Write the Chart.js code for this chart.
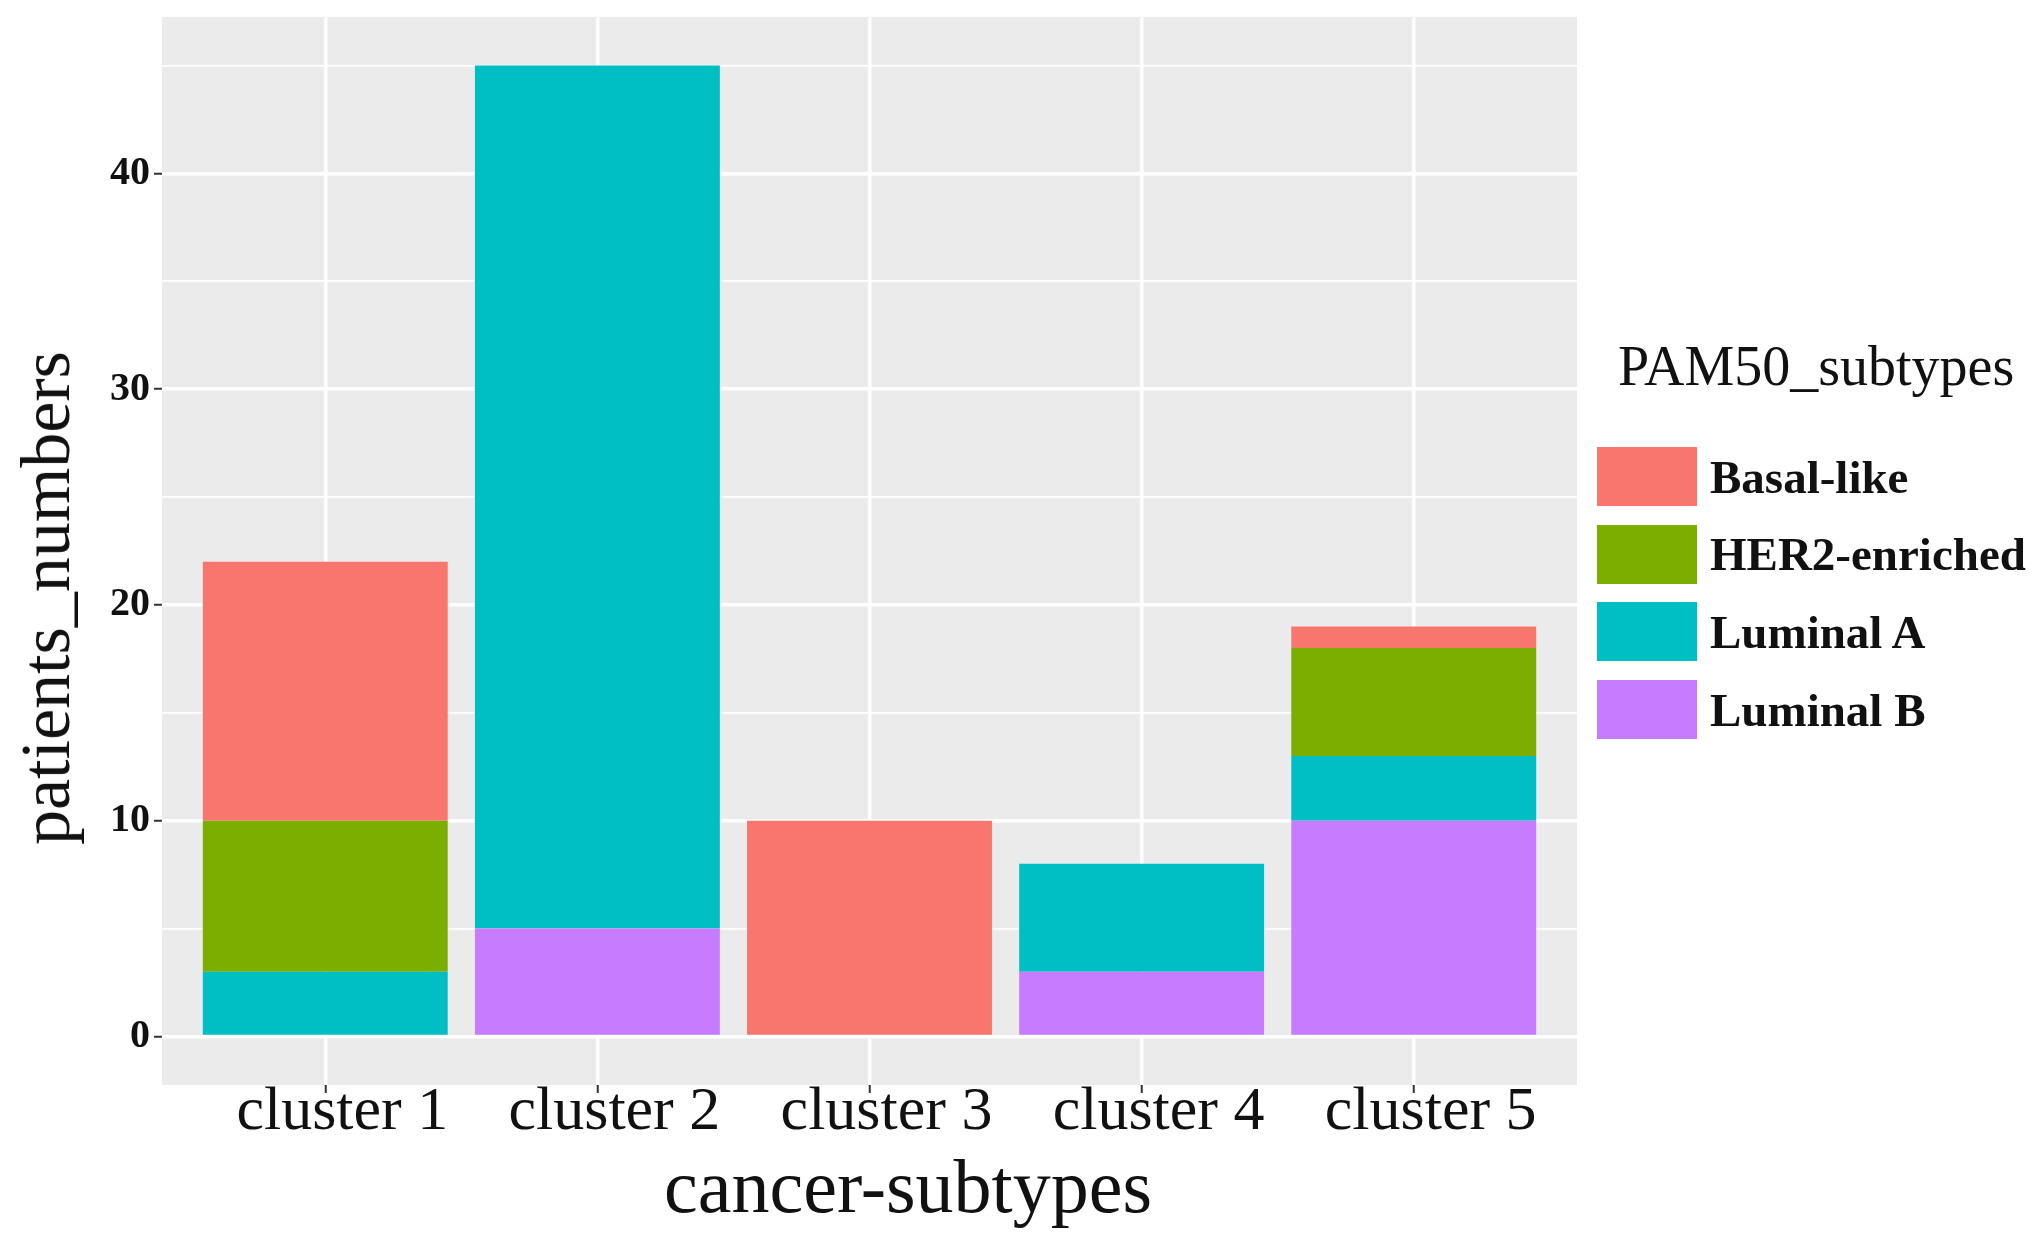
<!DOCTYPE html>
<html lang="en">
<head>
  <meta charset="UTF-8">
  <title>PAM50 subtypes per cluster</title>
  <script src="https://cdn.jsdelivr.net/npm/chart.js@4.4.3/dist/chart.umd.min.js"></script>
  <style>
    body {
      margin: 0;
      background: #fff;
      font-family: "Liberation Serif", "DejaVu Serif", serif;
      color: #111;
    }
    .wrap {
      position: relative;
      width: 2032px;
      height: 1240px;
    }
    .axis-title {
      position: absolute;
      white-space: nowrap;
      line-height: 1;
      transform: translate(-50%, -50%);
    }
    #ytitle {
      left: 46px;
      top: 598px;
      font-size: 70px;
      transform: translate(-50%, -50%) rotate(-90deg);
    }
    #xtitle {
      left: 908px;
      top: 1186px;
      font-size: 76px;
    }
    .legend {
      position: absolute;
      left: 1597px;
      top: 338px;
    }
    .legend h3 {
      margin: 0 0 0 21px;
      font-weight: normal;
      font-size: 56px;
      line-height: 56px;
      height: 109px;
    }
    .legend .row {
      display: flex;
      align-items: center;
      height: 59px;
      margin-bottom: 18.7px;
    }
    .legend .key {
      width: 100px;
      height: 59px;
      margin-right: 13px;
    }
    .legend .row span {
      font-size: 47px;
      font-weight: bold;
    }
  </style>
</head>
<body>
  <div class="wrap">
    <canvas id="chart" width="2032" height="1240"></canvas>
    <div class="axis-title" id="ytitle">patients_numbers</div>
    <div class="axis-title" id="xtitle">cancer-subtypes</div>
    <div class="legend" id="legend"><h3>PAM50_subtypes</h3></div>
  </div>

  <script>
    // data
    const categories = ['cluster 1', 'cluster 2', 'cluster 3', 'cluster 4', 'cluster 5'];
    const subtypes = ['Basal-like', 'HER2-enriched', 'Luminal A', 'Luminal B'];
    const basalLike = [12, 0, 10, 0, 1];
    const her2Enriched = [7, 0, 0, 0, 5];
    const luminalA = [3, 40, 0, 5, 3];
    const luminalB = [0, 5, 0, 3, 10];
    const yTicks = [0, 10, 20, 30, 40];

    const colors = ['#F8766D', '#7CAE00', '#00BFC4', '#C77CFF'];
    const seriesValues = [basalLike, her2Enriched, luminalA, luminalB];

    // ggplot stacks the first level on top, so build the datasets bottom-up
    const datasets = seriesValues.map((vals, i) => ({
      label: subtypes[i],
      data: vals.map((v, j) => ({ x: j + 1, y: v })),
      backgroundColor: colors[i],
      borderWidth: 0,
      barPercentage: 0.9,
      categoryPercentage: 1.0
    })).reverse();

    // legend in ggplot order
    const legendEl = document.getElementById('legend');
    subtypes.forEach((name, i) => {
      const row = document.createElement('div');
      row.className = 'row';
      row.innerHTML = '<div class="key" style="background:' + colors[i] + '"></div><span>' + name + '</span>';
      legendEl.appendChild(row);
    });

    const panelBg = {
      id: 'panelBg',
      beforeDraw(chart) {
        const a = chart.chartArea;
        const ctx = chart.ctx;
        ctx.save();
        ctx.fillStyle = '#EBEBEB';
        ctx.fillRect(a.left, a.top, a.right - a.left, a.bottom - a.top);
        ctx.restore();
      }
    };

    const isMajor = ctx => ctx.tick && yTicks.includes(ctx.tick.value);

    new Chart(document.getElementById('chart'), {
      type: 'bar',
      data: { datasets: datasets },
      plugins: [panelBg],
      options: {
        responsive: false,
        animation: false,
        devicePixelRatio: 1,
        layout: { padding: { left: 0, top: 17, right: 455, bottom: 0 } },
        plugins: {
          legend: { display: false },
          tooltip: { enabled: false }
        },
        scales: {
          x: {
            type: 'linear',
            stacked: true,
            min: 0.4,
            max: 5.6,
            offset: false,
            afterFit: s => {
              s.height = 155;
              s.paddingLeft = 0;
              s.paddingRight = 0;
            },
            border: { display: false },
            grid: {
              offset: false,
              color: '#FFFFFF',
              lineWidth: 3.5,
              tickColor: '#333333',
              tickLength: 8,
              tickWidth: 2
            },
            ticks: {
              stepSize: 1,
              includeBounds: false,
              autoSkip: false,
              maxRotation: 0,
              labelOffset: 17,
              padding: -11,
              color: '#111',
              font: { family: 'Liberation Serif', size: 62, lineHeight: 1 },
              callback: v => categories[v - 1] || ''
            }
          },
          y: {
            stacked: true,
            min: -2.25,
            max: 47.25,
            afterFit: s => {
              s.width = 162;
              s.paddingTop = 0;
              s.paddingBottom = 0;
            },
            border: { display: false },
            grid: {
              color: '#FFFFFF',
              lineWidth: ctx => isMajor(ctx) ? 3.5 : 1.8,
              tickColor: ctx => isMajor(ctx) ? '#333333' : 'rgba(0,0,0,0)',
              tickLength: 8,
              tickWidth: 2
            },
            ticks: {
              stepSize: 5,
              includeBounds: false,
              autoSkip: false,
              padding: 4,
              color: '#111',
              font: { family: 'Liberation Serif', size: 40, weight: 'bold' },
              callback: v => yTicks.includes(v) ? String(v) : ''
            }
          }
        }
      }
    });
  </script>
</body>
</html>
